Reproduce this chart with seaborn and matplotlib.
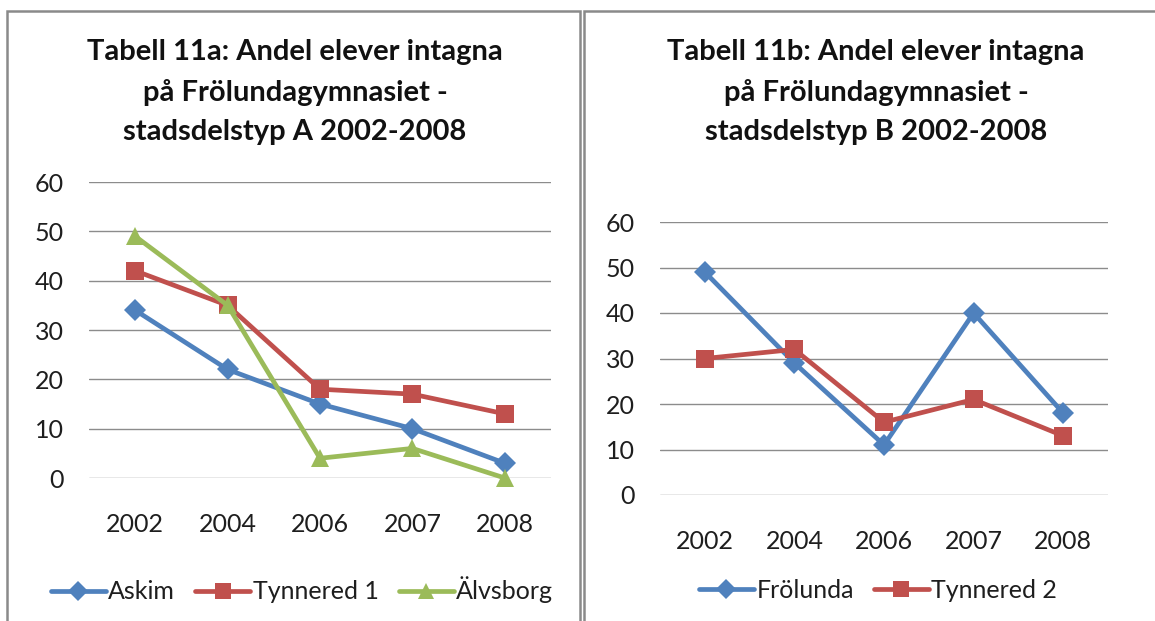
import pandas as pd
import matplotlib.pyplot as plt
import seaborn as sns
from matplotlib.patches import Rectangle
from matplotlib.lines import Line2D

OUTPUT_FILE = "out.png"

YEARS = ["2002", "2004", "2006", "2007", "2008"]

# Tabell 11a - stadsdelstyp A
ASKIM = [34, 22, 15, 10, 3]
TYNNERED_1 = [42, 35, 18, 17, 13]
ALVSBORG = [49, 35, 4, 6, 0]

# Tabell 11b - stadsdelstyp B
FROLUNDA = [49, 29, 11, 40, 18]
TYNNERED_2 = [30, 32, 16, 21, 13]

TITLE_A = "Tabell 11a: Andel elever intagna\npå Frölundagymnasiet -\nstadsdelstyp A 2002-2008"
TITLE_B = "Tabell 11b: Andel elever intagna\npå Frölundagymnasiet -\nstadsdelstyp B 2002-2008"

BLUE = "#4F81BD"
RED = "#C0504D"
GREEN = "#9BBB59"
GRID = "#8C8C8C"
FRAME = "#8A8A8A"
TXT = "#1E1E1E"
FS = 18


def to_long(series):
    """Turn {name: values} into a long DataFrame for seaborn."""
    rows = []
    for name, vals in series.items():
        for year, v in zip(YEARS, vals):
            rows.append({"year": year, "value": v, "serie": name})
    return pd.DataFrame(rows)


def draw_panel(fig, rect, series, colors, markers, legend_x):
    W, H = 1155, 621
    x0, x1, y0, y1 = rect  # pixel coords: y0 = value 0, y1 = value 60
    ax = fig.add_axes([x0 / W, (H - y0) / H, (x1 - x0) / W, (y0 - y1) / H])
    df = to_long(series)
    names = list(series.keys())
    for name, col, mk in zip(names, colors, markers):
        sub = df[df["serie"] == name]
        ms = 11.5 if mk == "D" else 13
        sns.lineplot(data=sub, x="year", y="value", ax=ax, color=col,
                     marker=mk, markersize=ms, markeredgewidth=0,
                     linewidth=3.4, sort=False, clip_on=False, legend=False)
    ax.set_xlim(-0.5, len(YEARS) - 0.5)
    ax.set_ylim(0, 60)
    ax.set_yticks(range(0, 61, 10))
    ax.set_xlabel("")
    ax.set_ylabel("")
    ax.grid(axis="y", color=GRID, linewidth=1.0)
    ax.grid(axis="x", visible=False)
    ax.set_axisbelow(True)
    for s in ax.spines.values():
        s.set_visible(False)
    ax.tick_params(axis="both", length=0, labelsize=FS, colors=TXT)
    ax.tick_params(axis="y", pad=18)
    ax.tick_params(axis="x", pad=25)
    ax.set_facecolor("none")
    handles = [Line2D([0], [0], color=c, marker=m, linewidth=3.4,
                      markersize=(10 if m == "D" else 12), markeredgewidth=0)
               for c, m in zip(colors, markers)]
    fig.legend(handles, names, loc="center", ncol=len(names), frameon=False,
               bbox_to_anchor=(legend_x / W, (H - 590) / H),
               fontsize=FS, handlelength=2.2, handletextpad=0.1,
               columnspacing=0.8, labelcolor=TXT)
    return ax


if __name__ == "__main__":
    sns.set_theme(style="white")
    plt.rcParams["font.family"] = ["Lato", "DejaVu Sans"]

    fig = plt.figure(figsize=(11.55, 6.21), dpi=100)
    W, H = 1155, 621

    # panel frames
    for (fx0, fx1) in [(7, 580), (584, 1160)]:
        fig.add_artist(Rectangle((fx0 / W, -0.1), (fx1 - fx0) / W, (H - 11) / H + 0.1,
                                 transform=fig.transFigure, fill=False,
                                 edgecolor=FRAME, linewidth=1.8))

    draw_panel(fig, (89, 551, 478, 182),
               {"Askim": ASKIM, "Tynnered 1": TYNNERED_1, "Älvsborg": ALVSBORG},
               [BLUE, RED, GREEN], ["D", "s", "^"], 302)
    draw_panel(fig, (660, 1108, 495, 222),
               {"Frölunda": FROLUNDA, "Tynnered 2": TYNNERED_2},
               [BLUE, RED], ["D", "s"], 878)

    fig.text(295 / W, (H - 92) / H, TITLE_A, ha="center", va="center",
             fontsize=21, fontweight="bold", linespacing=1.62, color="#111111")
    fig.text(876 / W, (H - 92) / H, TITLE_B, ha="center", va="center",
             fontsize=21, fontweight="bold", linespacing=1.62, color="#111111")

    fig.savefig(OUTPUT_FILE, dpi=100)
    plt.close(fig)
